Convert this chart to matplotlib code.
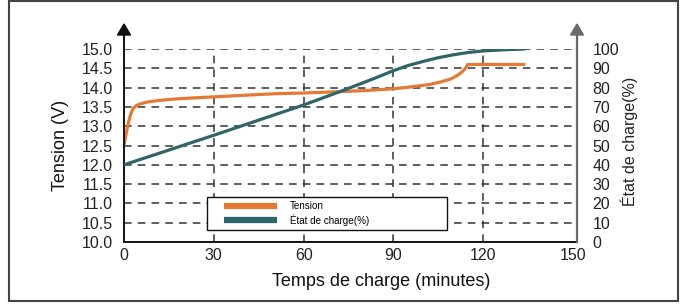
import matplotlib
matplotlib.use("Agg")
import matplotlib.pyplot as plt
from matplotlib.patches import Polygon, Rectangle
from matplotlib.lines import Line2D
from matplotlib.legend_handler import HandlerBase

plt.rcParams['font.family'] = ['Liberation Sans', 'DejaVu Sans']

# Data
time_tension = [0, 0.7, 1.5, 2.2, 3.0, 4.0, 5.5, 8, 12, 18, 25, 30, 40, 50, 60, 70, 80,
                90, 96, 102, 106, 109, 111, 112.5, 113.6, 114.3, 114.8, 133.5]
tension = [12.5, 12.8, 13.1, 13.3, 13.45, 13.53, 13.58, 13.63, 13.67, 13.71, 13.74, 13.76,
           13.8, 13.84, 13.86, 13.89, 13.92, 13.97, 14.02, 14.08, 14.15, 14.22, 14.3,
           14.38, 14.46, 14.53, 14.6, 14.6]
time_soc = [0, 30, 60, 74, 84, 90, 95, 100, 105, 110, 115, 120, 127, 133.5]
soc = [40, 55.3, 71, 79, 85, 88.8, 91.5, 93.6, 95.5, 97, 98.2, 99, 99.6, 100]

x_ticks = [0, 30, 60, 90, 120, 150]
v_ticks = [10.0, 10.5, 11.0, 11.5, 12.0, 12.5, 13.0, 13.5, 14.0, 14.5, 15.0]
soc_ticks = [0, 10, 20, 30, 40, 50, 60, 70, 80, 90, 100]

ORANGE = '#E27A36'
TEAL = '#2E6569'


class OffsetLineHandler(HandlerBase):
    def create_artists(self, legend, orig_handle, xdescent, ydescent, width, height,
                       fontsize, trans):
        y = height / 2 - ydescent
        start = -xdescent + 0.19 * width
        ln = Line2D([start, -xdescent + width], [y, y], color=orig_handle.get_color(),
                    lw=4.5, solid_capstyle='butt', transform=trans)
        return [ln]


fig = plt.figure(figsize=(6.86, 3.04), dpi=100)
W, H = 686, 304
x0, x1, ytop, ybot = 124, 577, 49, 242
ax = fig.add_axes([x0 / W, 1 - ybot / H, (x1 - x0) / W, (ybot - ytop) / H])
ax2 = ax.twinx()

ax.plot(time_tension, tension, color=ORANGE, lw=2.3, label='Tension')
ax2.plot(time_soc, soc, color=TEAL, lw=2.3, label='État de charge(%)')

ax.set_xlim(0, 151.3)
ax.set_ylim(10, 15)
ax2.set_ylim(0, 100)
ax.set_xticks(x_ticks)
ax.set_yticks(v_ticks)
ax.set_yticklabels([f'{v:.1f}' for v in v_ticks])
ax2.set_yticks(soc_ticks)

ax.grid(True, linestyle=(0, (5, 4)), color='#333333', lw=1.1)
ax.set_axisbelow(True)
xgl = ax.xaxis.get_gridlines()
xgl[0].set_visible(False)
xgl[-1].set_visible(False)
ygl = ax.yaxis.get_gridlines()
ygl[0].set_visible(False)

ax.spines['top'].set_visible(False)
ax2.spines['top'].set_visible(False)
ax2.spines['left'].set_visible(False)
ax2.spines['bottom'].set_visible(False)
ax.spines['right'].set_visible(False)
ax.spines['left'].set_color('#111111')
ax.spines['bottom'].set_color('#111111')
ax.spines['left'].set_linewidth(1.4)
ax.spines['bottom'].set_linewidth(1.4)
ax2.spines['right'].set_color('#6a6a6a')
ax2.spines['right'].set_linewidth(1.6)

ax.tick_params(axis='both', length=0, labelsize=11.5, colors='#222222')
ax.tick_params(axis='y', pad=8)
ax.tick_params(axis='x', pad=4)
ax2.tick_params(axis='y', length=0, labelsize=11.5, colors='#222222', pad=11)

ax.set_xlabel('Temps de charge (minutes)', fontsize=13, color='#111111')
ax.xaxis.set_label_coords(0.567, -0.163)
ax.set_ylabel('Tension (V)', fontsize=13, color='#111111')
ax.yaxis.set_label_coords(-0.122, 0.5)
ax2.set_ylabel('État de charge(%)', fontsize=11.5, color='#222222', rotation=90)
ax2.yaxis.set_label_coords(1.095, 0.52)

# spine extensions with arrows
ext_top = (ybot - 35) / (ybot - ytop)
tip = (ybot - 24) / (ybot - ytop)
hw = 6.5 / (x1 - x0)
ax.plot([0, 0], [1, ext_top], transform=ax.transAxes, color='#111111', lw=1.4, clip_on=False)
ax.add_patch(Polygon([(-hw, ext_top), (hw, ext_top), (0, tip)], closed=True,
                     transform=ax.transAxes, color='#111111', clip_on=False))
ax2.plot([1, 1], [1, ext_top], transform=ax2.transAxes, color='#6a6a6a', lw=1.6, clip_on=False)
ax2.add_patch(Polygon([(1 - hw, ext_top), (1 + hw, ext_top), (1, tip)], closed=True,
                      transform=ax2.transAxes, color='#6a6a6a', clip_on=False))

# legend
h1, l1 = ax.get_legend_handles_labels()
h2, l2 = ax2.get_legend_handles_labels()
lx0 = (207 - x0) / (x1 - x0)
lx1 = (447 - x0) / (x1 - x0)
ly1 = (ybot - 197) / (ybot - ytop)
leg = ax2.legend(h1 + h2, l1 + l2, loc='upper left', bbox_to_anchor=(lx0, ly1, lx1 - lx0, 0.0),
                 mode='expand', borderaxespad=0, fontsize=7.1, handlelength=6.6,
                 handletextpad=1.4, labelspacing=0.3, fancybox=False, framealpha=1,
                 edgecolor='#111111', borderpad=0.45,
                 handler_map={Line2D: OffsetLineHandler()})
leg.get_frame().set_linewidth(1.0)

# outer frame
fig.patches.append(Rectangle((9 / W, 1 - 301 / H), (678 - 9) / W, 300 / H, transform=fig.transFigure,
                             fill=False, edgecolor='#444444', lw=1.5))

fig.savefig('out.png', dpi=100)
